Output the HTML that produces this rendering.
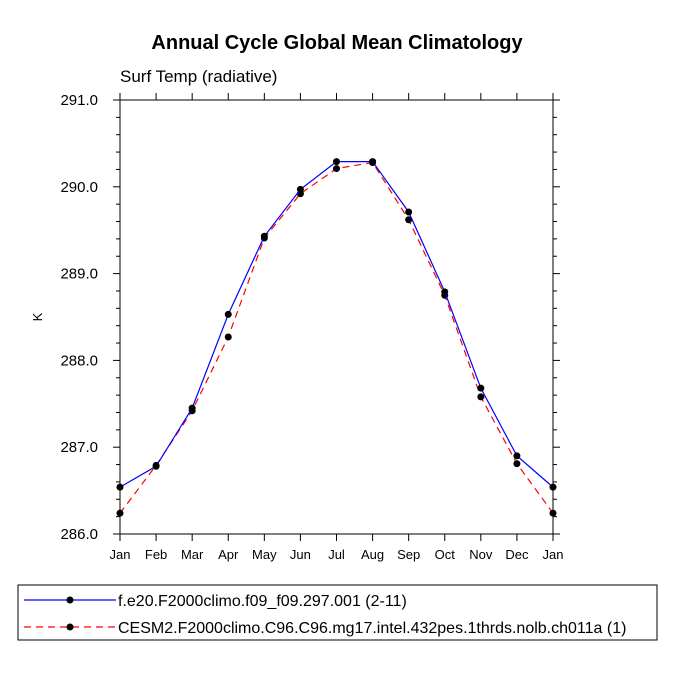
<!DOCTYPE html>
<html><head><meta charset="utf-8"><style>
body{margin:0;background:#fff;}
svg text{font-family:"Liberation Sans",sans-serif;}
</style></head><body>
<svg id="chart" width="675" height="675" xmlns="http://www.w3.org/2000/svg">
<text x="337" y="49" text-anchor="middle" font-size="20" font-weight="bold">Annual Cycle Global Mean Climatology</text>
<text x="120" y="82" font-size="17">Surf Temp (radiative)</text>
<text transform="translate(42,317) rotate(-90)" text-anchor="middle" font-size="13">K</text>
<g id="axes"></g>
<g id="series"></g>
<rect x="18" y="585" width="639" height="55" fill="none" stroke="#000" stroke-width="1"/>
<g>
<line x1="24" y1="600" x2="116" y2="600" stroke="#00f" stroke-width="1.2"/>
<circle cx="70" cy="600" r="3.5"/>
<text x="118" y="606" font-size="16">f.e20.F2000climo.f09_f09.297.001 (2-11)</text>
</g>
<g>
<line x1="24" y1="627" x2="116" y2="627" stroke="#f00" stroke-width="1.2" stroke-dasharray="7,5"/>
<circle cx="70" cy="627" r="3.5"/>
<text x="118" y="633" font-size="16">CESM2.F2000climo.C96.C96.mg17.intel.432pes.1thrds.nolb.ch011a (1)</text>
</g>
</svg>
<script>
const months=["Jan","Feb","Mar","Apr","May","Jun","Jul","Aug","Sep","Oct","Nov","Dec","Jan"];
const yTicks=[286,287,288,289,290,291];
const yTickLabels=["286.0","287.0","288.0","289.0","290.0","291.0"];
const blueValues=[286.54,286.78,287.45,288.53,289.43,289.97,290.29,290.29,289.71,288.79,287.68,286.90,286.54];
const redValues=[286.24,286.79,287.42,288.27,289.41,289.92,290.21,290.28,289.62,288.75,287.58,286.81,286.24];
const X0=120,X1=553,Y0=534,Y1=100,YMIN=286,YMAX=291;
const NS="http://www.w3.org/2000/svg";
function xs(i){return X0+(X1-X0)*i/(months.length-1);}
function ys(v){return Y0-(v-YMIN)/(YMAX-YMIN)*(Y0-Y1);}
function mk(tag,attrs,parent){const e=document.createElementNS(NS,tag);for(const k in attrs)e.setAttribute(k,attrs[k]);parent.appendChild(e);return e;}
const ax=document.getElementById('axes');
const frame=mk('rect',{x:X0,y:Y1,width:X1-X0,height:Y0-Y1,fill:'none',stroke:'#000','stroke-width':1},ax);


months.forEach((m,i)=>{const x=xs(i);
mk('line',{x1:x,y1:Y0,x2:x,y2:Y0+7,stroke:'#000'},ax);
mk('line',{x1:x,y1:Y1,x2:x,y2:Y1-7,stroke:'#000'},ax);
const t=mk('text',{x:x,y:Y0+25,'text-anchor':'middle','font-size':13},ax);t.textContent=m;

});
for(let v=YMIN;v<=YMAX+1e-9;v+=0.2){const y=ys(v);const major=Math.abs(v-Math.round(v))<1e-6;const L=major?7:4;
mk('line',{x1:X0,y1:y,x2:X0-L,y2:y,stroke:'#000'},ax);
mk('line',{x1:X1,y1:y,x2:X1+L,y2:y,stroke:'#000'},ax);}
yTicks.forEach((v,i)=>{const t=mk('text',{x:X0-22,y:ys(v)+5,'text-anchor':'end','font-size':15},ax);t.textContent=yTickLabels[i];

});
const sg=document.getElementById('series');
function draw(vals,color,dash,name){
const p=mk('polyline',{points:vals.map((v,i)=>xs(i)+','+ys(v)).join(' '),fill:'none',stroke:color,'stroke-width':1.2,'stroke-dasharray':dash},sg);


vals.forEach((v,i)=>{const c=mk('circle',{cx:xs(i),cy:ys(v),r:3.5,fill:'#000'},sg);

});}
draw(redValues,'#f00','7,5','red-series');
draw(blueValues,'#00f','none','blue-series');
</script>
</body></html>
